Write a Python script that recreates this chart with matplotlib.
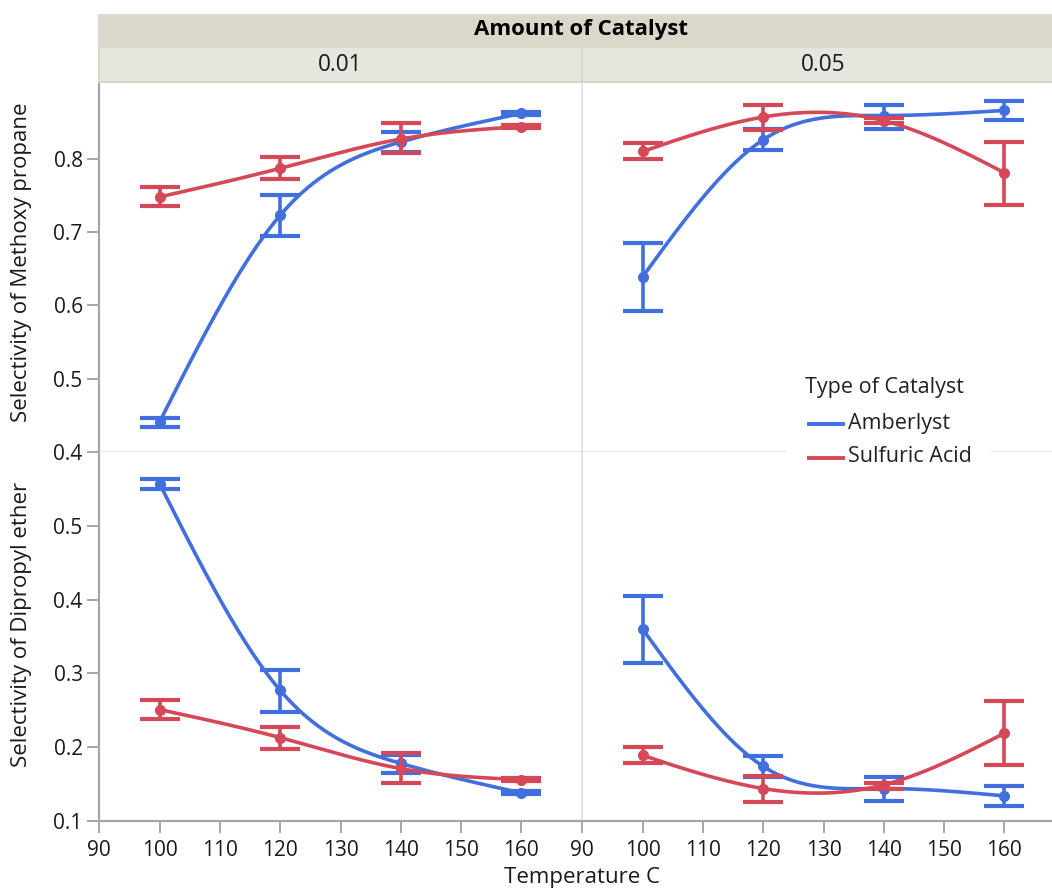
import numpy as np
import matplotlib
matplotlib.use("Agg")
import matplotlib.pyplot as plt
from matplotlib.patches import Rectangle

plt.rcParams['font.family'] = ['Open Sans', 'DejaVu Sans']

# ---- data -------------------------------------------------------------
temperature = [100, 120, 140, 160]
catalyst_types = ["Amberlyst", "Sulfuric Acid"]
amounts = ["0.01", "0.05"]

# Selectivity of Methoxy propane, amount 0.01
mp_amb_001 = [0.441, 0.723, 0.823, 0.862]
mp_amb_001_lo = [0.434, 0.694, 0.809, 0.860]
mp_amb_001_hi = [0.447, 0.751, 0.836, 0.864]
mp_sul_001 = [0.748, 0.787, 0.827, 0.844]
mp_sul_001_lo = [0.735, 0.772, 0.808, 0.842]
mp_sul_001_hi = [0.761, 0.803, 0.849, 0.846]

# Selectivity of Methoxy propane, amount 0.05
mp_amb_005 = [0.639, 0.826, 0.859, 0.866]
mp_amb_005_lo = [0.593, 0.812, 0.841, 0.853]
mp_amb_005_hi = [0.685, 0.841, 0.873, 0.879]
mp_sul_005 = [0.810, 0.857, 0.852, 0.781]
mp_sul_005_lo = [0.800, 0.839, 0.849, 0.737]
mp_sul_005_hi = [0.821, 0.874, 0.856, 0.823]

# Selectivity of Dipropyl ether, amount 0.01
de_amb_001 = [0.557, 0.277, 0.178, 0.138]
de_amb_001_lo = [0.550, 0.248, 0.165, 0.136]
de_amb_001_hi = [0.563, 0.305, 0.189, 0.140]
de_sul_001 = [0.251, 0.213, 0.171, 0.156]
de_sul_001_lo = [0.238, 0.197, 0.151, 0.154]
de_sul_001_hi = [0.264, 0.227, 0.192, 0.158]

# Selectivity of Dipropyl ether, amount 0.05
de_amb_005 = [0.360, 0.174, 0.144, 0.134]
de_amb_005_lo = [0.314, 0.159, 0.127, 0.121]
de_amb_005_hi = [0.405, 0.188, 0.159, 0.147]
de_sul_005 = [0.189, 0.144, 0.149, 0.219]
de_sul_005_lo = [0.179, 0.126, 0.144, 0.176]
de_sul_005_hi = [0.200, 0.161, 0.151, 0.262]

x_ticks = [90, 100, 110, 120, 130, 140, 150, 160]
mp_ticks = [0.4, 0.5, 0.6, 0.7, 0.8]
de_ticks = [0.1, 0.2, 0.3, 0.4, 0.5]

panels = {
    (0, 0): [(mp_amb_001, mp_amb_001_lo, mp_amb_001_hi),
             (mp_sul_001, mp_sul_001_lo, mp_sul_001_hi)],
    (0, 1): [(mp_amb_005, mp_amb_005_lo, mp_amb_005_hi),
             (mp_sul_005, mp_sul_005_lo, mp_sul_005_hi)],
    (1, 0): [(de_amb_001, de_amb_001_lo, de_amb_001_hi),
             (de_sul_001, de_sul_001_lo, de_sul_001_hi)],
    (1, 1): [(de_amb_005, de_amb_005_lo, de_amb_005_hi),
             (de_sul_005, de_sul_005_lo, de_sul_005_hi)],
}

# ---- style ------------------------------------------------------------
COLORS = ["#416FDE", "#D44858"]
AXIS_GRAY = "#A6A6A6"
DIVIDER = "#DCDCDC"
HEADER_DARK = "#DAD8CA"
HEADER_LIGHT = "#E6E6DE"
TICK_FS = 15
TEXT = "#1A1A1A"
W, H = 1052, 890


def natural_spline(x, y, xs):
    """Natural cubic spline through (x, y), evaluated at xs."""
    x = np.asarray(x, float)
    y = np.asarray(y, float)
    n = len(x)
    h = np.diff(x)
    A = np.zeros((n, n))
    b = np.zeros(n)
    A[0, 0] = A[-1, -1] = 1.0
    for i in range(1, n - 1):
        A[i, i - 1] = h[i - 1]
        A[i, i] = 2 * (h[i - 1] + h[i])
        A[i, i + 1] = h[i]
        b[i] = 6 * ((y[i + 1] - y[i]) / h[i] - (y[i] - y[i - 1]) / h[i - 1])
    M = np.linalg.solve(A, b)
    idx = np.clip(np.searchsorted(x, xs) - 1, 0, n - 2)
    x0, x1 = x[idx], x[idx + 1]
    hh = x1 - x0
    t0, t1 = x1 - xs, xs - x0
    return (M[idx] * t0 ** 3 / (6 * hh) + M[idx + 1] * t1 ** 3 / (6 * hh)
            + (y[idx] / hh - M[idx] * hh / 6) * t0
            + (y[idx + 1] / hh - M[idx + 1] * hh / 6) * t1)


def fig_rect(x0, y0, x1, y1):
    """Pixel box (top-left origin) -> figure-fraction rect."""
    return [x0 / W, 1 - y1 / H, (x1 - x0) / W, (y1 - y0) / H]


fig = plt.figure(figsize=(W / 100, H / 100), dpi=100)

px_per_deg = 6.03
x_left = [99.3, 582.3]
panel_w = 80 * px_per_deg
rows_px = [(83, 452), (452, 821)]
ylims = [(0.4, 0.4 + 369 / 733.0), (0.1, 0.6)]

xs = np.linspace(temperature[0], temperature[-1], 300)
for r in range(2):
    for c in range(2):
        y0, y1 = rows_px[r]
        ax = fig.add_axes(fig_rect(x_left[c], y0, x_left[c] + panel_w, y1))
        ax.set_xlim(90, 170)
        ax.set_ylim(*ylims[r])
        for s in ax.spines.values():
            s.set_color(DIVIDER)
            s.set_linewidth(1.1)
        ax.spines['top'].set_visible(False)
        if c == 0:
            ax.spines['right'].set_visible(False)
        ax.tick_params(axis='both', colors=AXIS_GRAY, labelcolor=TEXT,
                       labelsize=TICK_FS, length=8.5, width=1.4, direction='out')
        if c == 0:
            ax.spines['left'].set_color(AXIS_GRAY)
            ax.spines['left'].set_linewidth(1.6)
            ticks = mp_ticks if r == 0 else de_ticks
            ax.set_yticks(ticks)
            ax.set_yticklabels([f"{v:.1f}" for v in ticks])
        else:
            ax.set_yticks([])
        if r == 1:
            ax.spines['bottom'].set_color(AXIS_GRAY)
            ax.spines['bottom'].set_linewidth(1.6)
            ax.set_xticks(x_ticks)
            ax.set_xticklabels([str(v) for v in x_ticks])
            ax.tick_params(axis='x', pad=5)
        else:
            ax.set_xticks([])

        for k, (mean, lo, hi) in enumerate(panels[(r, c)]):
            col = COLORS[k]
            ax.plot(xs, natural_spline(temperature, mean, xs), color=col,
                    lw=2.6, solid_capstyle='round', zorder=3 + k)
            mean_a = np.asarray(mean)
            yerr = np.vstack([mean_a - np.asarray(lo), np.asarray(hi) - mean_a])
            ax.errorbar(temperature, mean, yerr=yerr, fmt='o', color=col,
                        ms=7, elinewidth=2.6, capsize=14.4, capthick=3.0,
                        zorder=3 + k)

# ---- overlay in pixel units for header strips, titles and legend --------
right_edge = x_left[1] + panel_w
ov = fig.add_axes([0, 0, 1, 1], zorder=20)
ov.set_xlim(0, W)
ov.set_ylim(H, 0)
ov.axis('off')
ov.patch.set_alpha(0)

ov.add_patch(Rectangle((98.3, 14), right_edge - 98.3, 33,
                       facecolor=HEADER_DARK, edgecolor='none'))
ov.add_patch(Rectangle((98.3, 47), right_edge - 98.3, 36,
                       facecolor="#D6D6C9", edgecolor='none'))
ov.add_patch(Rectangle((99.5, 47.5), 580.5 - 99.5, 33.5,
                       facecolor=HEADER_LIGHT, edgecolor='none'))
ov.add_patch(Rectangle((582.5, 47.5), right_edge - 582.5, 33.5,
                       facecolor=HEADER_LIGHT, edgecolor='none'))
ov.text((98.3 + right_edge) / 2, 29.5, "Amount of Catalyst",
        ha='center', va='center', fontsize=16, fontweight='bold', color='black')
for c, lab in enumerate(amounts):
    ov.text(x_left[c] + panel_w / 2, 65, lab,
            ha='center', va='center', fontsize=16.3, color=TEXT)

ov.text(22, 262, "Selectivity of Methoxy propane", rotation=90,
        ha='center', va='center', fontsize=16, color=TEXT)
ov.text(22, 624, "Selectivity of Dipropyl ether", rotation=90,
        ha='center', va='center', fontsize=16, color=TEXT)
ov.text(582, 877, "Temperature C", ha='center', va='center',
        fontsize=16, color=TEXT)

# legend: white box over the panel divider, title, then one row per type
ov.add_patch(Rectangle((787, 370), 204, 104, facecolor='white', edgecolor='none'))
ov.text(805, 387, "Type of Catalyst", ha='left', va='center',
        fontsize=15.5, color='#222222')
for k, (name, y) in enumerate(zip(catalyst_types, [424, 458])):
    ov.plot([807, 845], [y, y], color=COLORS[k], lw=2.8, solid_capstyle='butt')
    ov.text(848, y - 1, name, ha='left', va='center', fontsize=15.5,
            color='#222222')

fig.savefig("out.png", dpi=100)
